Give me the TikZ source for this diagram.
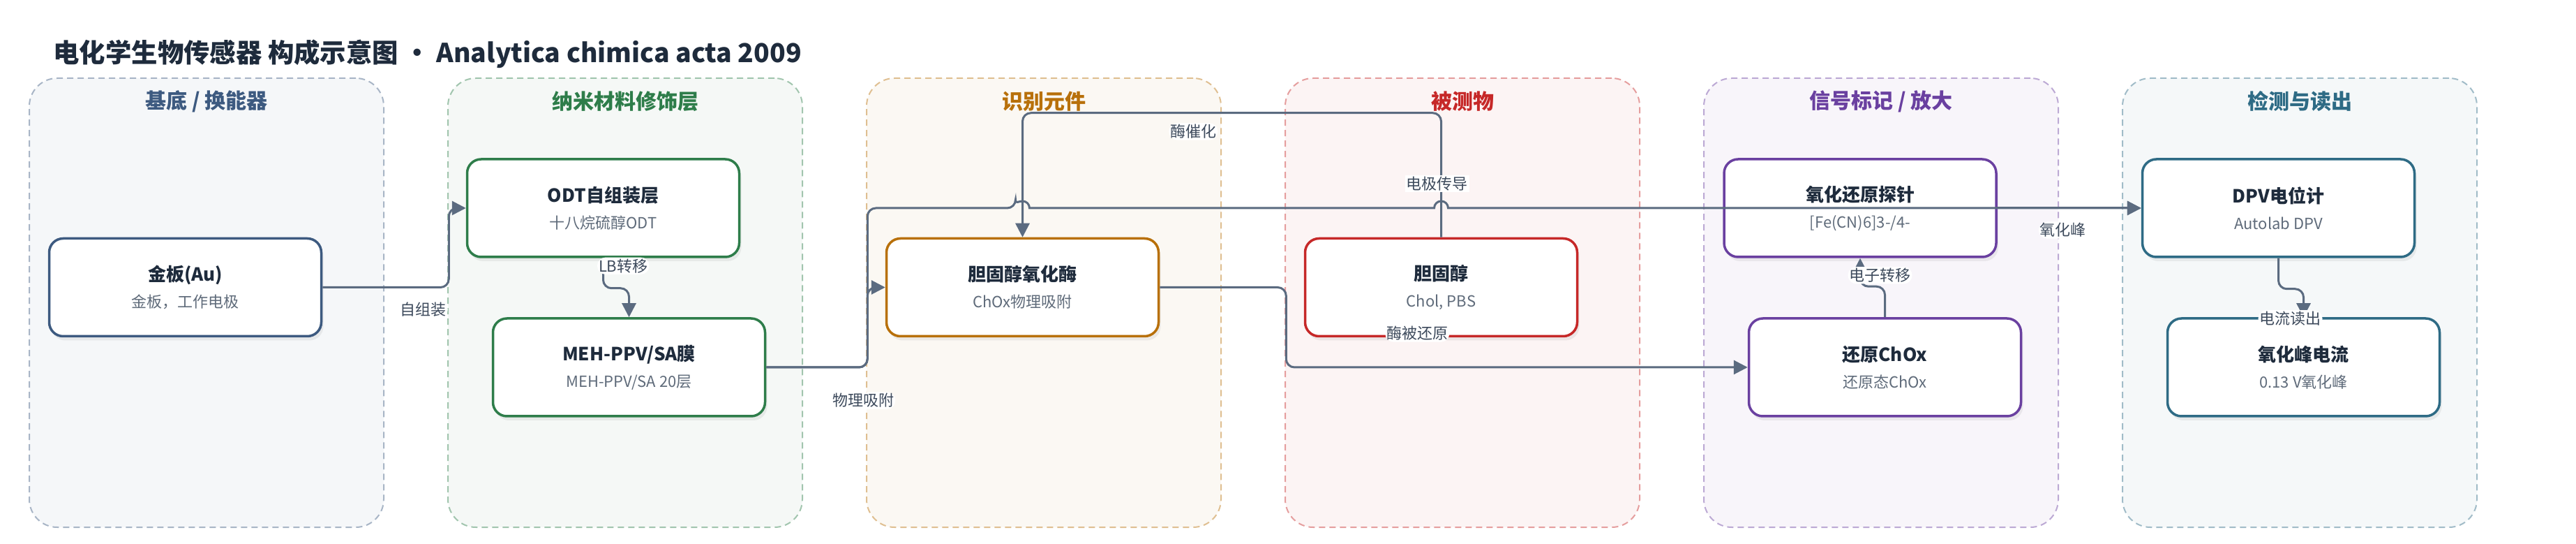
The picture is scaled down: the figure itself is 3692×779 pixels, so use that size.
\documentclass[tikz,border=0pt]{standalone}
\usepackage{fontspec}
\setmainfont{Noto Sans CJK SC}
\usetikzlibrary{arrows.meta,positioning,shadows}

\definecolor{ink}{HTML}{1E2B3C}
\definecolor{subink}{HTML}{5F6B7A}
\definecolor{wire}{HTML}{5B6B80}
\definecolor{wiretext}{HTML}{3D4A5C}
\definecolor{subC}{HTML}{3D5A80}
\definecolor{nanoC}{HTML}{2E7D4A}
\definecolor{recogC}{HTML}{B8700A}
\definecolor{analyteC}{HTML}{C62828}
\definecolor{signalC}{HTML}{6A40A0}
\definecolor{readC}{HTML}{2E6B85}

\newcommand{\subline}[1]{{\fontsize{11}{13}\selectfont\color{subink}#1}}

\begin{document}
\begin{tikzpicture}[
		x=0.5pt, y=-0.5pt,
		panel/.style={draw=#1!45, fill=#1!5, dash pattern=on 4.5pt off 3pt, line width=1pt, rounded corners=20pt, minimum width=254pt, minimum height=321.5pt},
		ptitle/.style={font=\fontsize{15}{18}\selectfont\bfseries, inner sep=0pt},
		card/.style={draw=#1, line width=1.75pt, fill=white, rounded corners=10pt, minimum width=195pt, minimum height=70pt, align=center, text=ink, font=\fontsize{13}{17}\selectfont, drop shadow={shadow xshift=1.5pt, shadow yshift=-3pt, opacity=0.12}},
		link/.style={draw=wire, line width=1.5pt, rounded corners=6pt, -{Triangle[length=10pt, width=10pt]}},
		lbl/.style={fill=white, inner sep=1pt, text=wiretext, font=\fontsize{11}{13}\selectfont},
	]
		\useasboundingbox (0,0) rectangle (3692,779);
		\node[anchor=west, inner sep=0pt, text=ink, font=\fontsize{18.7}{23}\selectfont\bfseries] (title) at (76,77) {电化学生物传感器 构成示意图 · Analytica chimica acta 2009};
		
		\node[panel=subC] (p1) at (296,433.5) {};
		\node[panel=nanoC] (p2) at (896,433.5) {};
		\node[panel=recogC] (p3) at (1496,433.5) {};
		\node[panel=analyteC] (p4) at (2096,433.5) {};
		\node[panel=signalC] (p5) at (2696,433.5) {};
		\node[panel=readC] (p6) at (3296,433.5) {};
		\node[ptitle, text=subC] at ([yshift=-17pt]p1.north) {基底 / 换能器};
		\node[ptitle, text=nanoC] at ([yshift=-17pt]p2.north) {纳米材料修饰层};
		\node[ptitle, text=recogC] at ([yshift=-17pt]p3.north) {识别元件};
		\node[ptitle, text=analyteC] at ([yshift=-17pt]p4.north) {被测物};
		\node[ptitle, text=signalC] at ([yshift=-17pt]p5.north) {信号标记 / 放大};
		\node[ptitle, text=readC] at ([yshift=-17pt]p6.north) {检测与读出};
		
		\node[card=subC] (au) at (265.5,411.5) {\textbf{金板(Au)}\\[2pt]\subline{金板，工作电极}};
		\node[card=nanoC] (odt) at (864.5,298) {\textbf{ODT自组装层}\\[2pt]\subline{十八烷硫醇ODT}};
		\node[card=nanoC] (meh) at (901.5,526) {\textbf{MEH-PPV/SA膜}\\[2pt]\subline{MEH-PPV/SA 20层}};
		\node[card=recogC] (chox) at (1465.5,411.5) {\textbf{胆固醇氧化酶}\\[2pt]\subline{ChOx物理吸附}};
		\node[card=analyteC] (chol) at (2065.5,411.5) {\textbf{胆固醇}\\[2pt]\subline{Chol, PBS}};
		\node[card=signalC] (probe) at (2666,298) {\textbf{氧化还原探针}\\[2pt]\subline{[Fe(CN)6]3-/4-}};
		\node[card=signalC] (redchox) at (2701.5,526) {\textbf{还原ChOx}\\[2pt]\subline{还原态ChOx}};
		\node[card=readC] (dpv) at (3265.5,298) {\textbf{DPV电位计}\\[2pt]\subline{Autolab DPV}};
		\node[card=readC] (peak) at (3301.5,526) {\textbf{氧化峰电流}\\[2pt]\subline{0.13 V氧化峰}};
		
		\coordinate (hopA) at (chox.north |- dpv.west);
		\coordinate (hopB) at (chol.north |- dpv.west);
		
		\draw[link] (au.east) -- ++(181,0) node[lbl, anchor=north east, yshift=-9pt] {自组装} |- (odt.west);
		\draw[link] (odt.south) node[lbl, anchor=west, xshift=-5pt, yshift=-5.5pt] {LB转移} -- ++(0,43) -| (meh.north);
		\draw[link] (meh.east) -- ++(145,0) node[lbl, anchor=north, xshift=-3pt, yshift=-17pt] {物理吸附} |- (chox.west);
		\draw[link] (chol.north) -- ++(0,-178) -| node[lbl, pos=0.296, below, yshift=-6.5pt] {酶催化} (chox.north);
		\draw[link] (chox.east) -- ++(181,0) node[lbl, xshift=94pt, yshift=-33pt] {酶被还原} |- (redchox.west);
		\draw[link] (redchox.north) -- ++(0,-44) node[lbl, xshift=-3.5pt, yshift=8pt] {电子转移} -| (probe.south);
		\draw[link] (probe.east) -- node[lbl, below=9pt, xshift=-4.5pt] {氧化峰} (dpv.west);
		\draw[link] (meh.east) -- ++(145,0) |- ([xshift=-5pt]hopA) [sharp corners] arc[start angle=180, end angle=0, radius=5pt] -- ([xshift=-5pt]hopB) node[lbl, anchor=south, xshift=2pt, yshift=10.5pt] {电极传导} arc[start angle=180, end angle=0, radius=5pt] -- (dpv.west);
		\draw[link] (dpv.south) -- ++(0,44) -| (peak.north) node[lbl, xshift=-9.5pt, yshift=-1pt] {电流读出};
	\end{tikzpicture}
\end{document}
